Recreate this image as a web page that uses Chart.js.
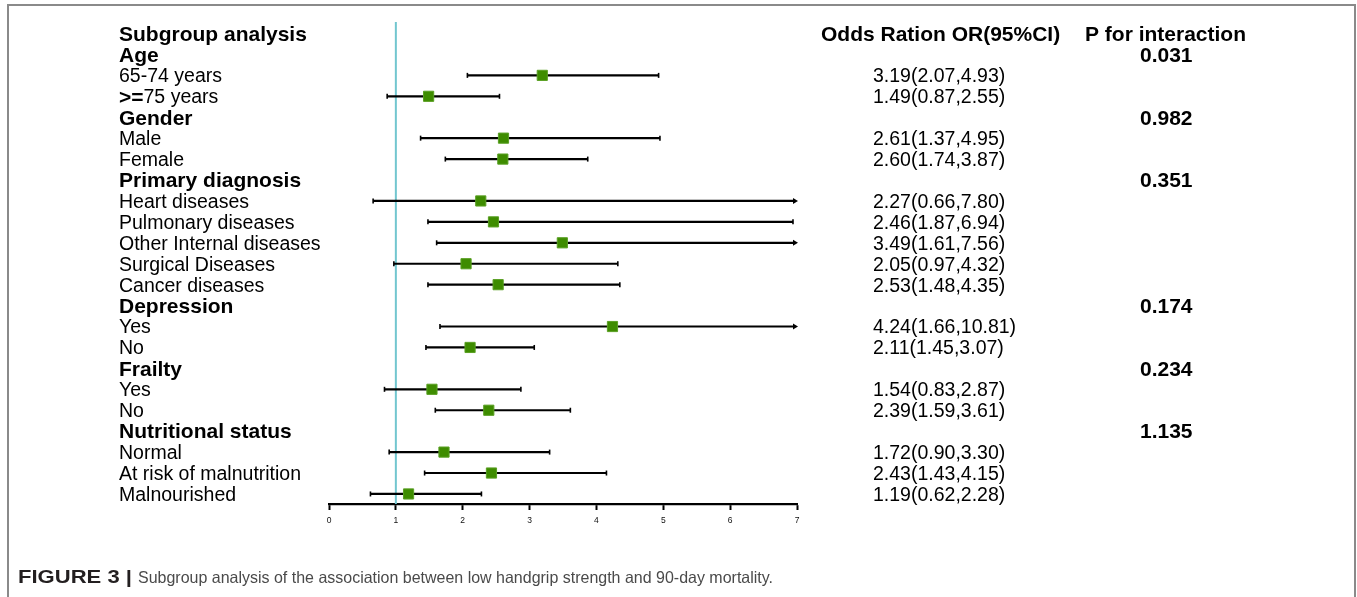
<!DOCTYPE html>
<html><head><meta charset="utf-8">
<script src="https://cdn.jsdelivr.net/npm/chart.js@4"></script>
<style>html,body{margin:0;padding:0;background:#fff;overflow:hidden} canvas{display:block}</style>
</head><body>
<canvas id="c" width="1357" height="597" style="width:1357px;height:597px"></canvas>
<script>
// ---- data ----
const rowLabels = ["Subgroup analysis","Age","65-74 years",">=75 years","Gender","Male","Female","Primary diagnosis","Heart diseases","Pulmonary diseases","Other Internal diseases","Surgical Diseases","Cancer diseases","Depression","Yes","No","Frailty","Yes","No","Nutritional status","Normal","At risk of malnutrition","Malnourished"];
const headerRows = [0,1,4,7,13,16,19];
const orValues = [null,null,3.19,1.49,null,2.61,2.60,null,2.27,2.46,3.49,2.05,2.53,null,4.24,2.11,null,1.54,2.39,null,1.72,2.43,1.19];
const ciLower  = [null,null,2.07,0.87,null,1.37,1.74,null,0.66,1.48,1.61,0.97,1.48,null,1.66,1.45,null,0.83,1.59,null,0.90,1.43,0.62];
const ciUpper  = [null,null,4.93,2.55,null,4.95,3.87,null,7.80,6.94,7.56,4.32,4.35,null,10.81,3.07,null,2.87,3.61,null,3.30,4.15,2.28];
const orText = ["","","3.19(2.07,4.93)","1.49(0.87,2.55)","","2.61(1.37,4.95)","2.60(1.74,3.87)","","2.27(0.66,7.80)","2.46(1.87,6.94)","3.49(1.61,7.56)","2.05(0.97,4.32)","2.53(1.48,4.35)","","4.24(1.66,10.81)","2.11(1.45,3.07)","","1.54(0.83,2.87)","2.39(1.59,3.61)","","1.72(0.90,3.30)","2.43(1.43,4.15)","1.19(0.62,2.28)"];
const pText = ["","0.031","","","0.982","","","0.351","","","","","","0.174","","","0.234","","","1.135","","",""];
const orHeader = "Odds Ration OR(95%CI)";
const pHeader = "P for interaction";
const xTicks = [0,1,2,3,4,5,6,7];
const refValue = 1;
const captionBold = "FIGURE 3 |";
const captionText = "Subgroup analysis of the association between low handgrip strength and 90-day mortality.";

const X_MIN = 0, X_MAX = 7;
const points = orValues.map((v,i)=> v==null?null:{x:v,y:i}).filter(p=>p);

const FONT = "'Liberation Sans', Arial, Helvetica, sans-serif";
const TEXT_DY = 1.5;

const forestPlugin = {
  id:'forest',
  beforeDatasetsDraw(chart){
    const {ctx, chartArea, scales:{x,y}} = chart;
    ctx.save();
    const rx = x.getPixelForValue(refValue);
    ctx.strokeStyle = '#72c6cf';
    ctx.lineWidth = 2;
    ctx.beginPath(); ctx.moveTo(rx, chartArea.top); ctx.lineTo(rx, chartArea.bottom); ctx.stroke();
    ctx.strokeStyle = '#000'; ctx.fillStyle = '#000';
    for (let i=0;i<ciLower.length;i++){
      if (ciLower[i]==null) continue;
      const yy = y.getPixelForValue(i);
      const lo = x.getPixelForValue(Math.max(X_MIN, ciLower[i]));
      const over = ciUpper[i] > X_MAX;
      const hi = x.getPixelForValue(Math.min(X_MAX, ciUpper[i]));
      ctx.lineWidth = 2.2;
      ctx.beginPath(); ctx.moveTo(lo, yy); ctx.lineTo(over?hi-3:hi, yy); ctx.stroke();
      ctx.lineWidth = 1.6;
      ctx.beginPath(); ctx.moveTo(lo, yy-2.5); ctx.lineTo(lo, yy+2.5); ctx.stroke();
      if (over){
        ctx.beginPath(); ctx.moveTo(hi+1, yy); ctx.lineTo(hi-4, yy-3); ctx.lineTo(hi-4, yy+3); ctx.closePath(); ctx.fill();
      } else {
        ctx.beginPath(); ctx.moveTo(hi, yy-2.5); ctx.lineTo(hi, yy+2.5); ctx.stroke();
      }
    }
    ctx.restore();
  },
  afterDraw(chart){
    const {ctx, scales:{y}} = chart;
    ctx.save();
    ctx.textBaseline = 'middle';
    ctx.fillStyle = '#000';
    const bold = "bold 21px " + FONT, reg = "19.5px " + FONT;
    const py = i => y.getPixelForValue(i) + TEXT_DY;
    rowLabels.forEach((t,i)=>{
      const yy = py(i);
      if (headerRows.includes(i)){
        ctx.font = bold; ctx.fillText(t, 119, yy);
      } else if (t.startsWith('>=')){
        ctx.font = bold; ctx.fillText('>=', 119, yy);
        const w = ctx.measureText('>=').width;
        ctx.font = reg; ctx.fillText(t.slice(2), 119+w, yy);
      } else {
        ctx.font = reg; ctx.fillText(t, 119, yy);
      }
    });
    ctx.font = bold;
    ctx.fillText(orHeader, 821, py(0));
    ctx.fillText(pHeader, 1085, py(0));
    ctx.font = reg;
    orText.forEach((t,i)=>{ if(t) ctx.fillText(t, 873, py(i)); });
    ctx.font = bold;
    pText.forEach((t,i)=>{ if(t) ctx.fillText(t, 1140, py(i)); });

    // frame
    ctx.strokeStyle = '#8a8a8a'; ctx.lineWidth = 2;
    ctx.beginPath(); ctx.moveTo(8, 600); ctx.lineTo(8, 5); ctx.lineTo(1355, 5); ctx.lineTo(1355, 600); ctx.stroke();

    // caption
    const fitText = (txt, x0, yb, target, font, color) => {
      ctx.font = font; ctx.fillStyle = color;
      const w = ctx.measureText(txt).width;
      ctx.save(); ctx.translate(x0, yb); ctx.scale(target/w, 1); ctx.fillText(txt, 0, 0); ctx.restore();
    };
    ctx.textBaseline = 'alphabetic';
    fitText(captionBold, 18, 583, 114, "bold 17.5px " + FONT, '#231f20');
    fitText(captionText, 138, 583, 635, "16.5px " + FONT, '#4a4a4a');
    ctx.restore();
  }
};

new Chart(document.getElementById('c'), {
  type:'scatter',
  data:{ datasets:[{
    data: points,
    pointStyle:'rect', pointRadius:7.2, pointHoverRadius:7.2,
    backgroundColor:'#3e8c00', borderColor:'#5aa023', borderWidth:1
  }]},
  options:{
    responsive:false, animation:false, events:[],
    layout:{padding:{left:329, right:560, top:22, bottom:0}},
    plugins:{legend:{display:false}, tooltip:{enabled:false}},
    scales:{
      x:{ type:'linear', min:X_MIN, max:X_MAX,
        afterBuildTicks(s){ s.ticks = xTicks.map(v=>({value:v})); },
        afterFit(s){ s.height = 93; },
        grid:{drawOnChartArea:false, drawTicks:true, tickLength:6, tickColor:'#000', tickWidth:2},
        border:{display:true, color:'#000', width:2.2},
        ticks:{color:'#111', font:{size:8.5, family:FONT}, padding:6, maxRotation:0, autoSkip:false}
      },
      y:{ type:'linear', min:-0.55, max:22.48, reverse:true, display:false }
    }
  },
  plugins:[forestPlugin]
});
</script>
</body></html>
